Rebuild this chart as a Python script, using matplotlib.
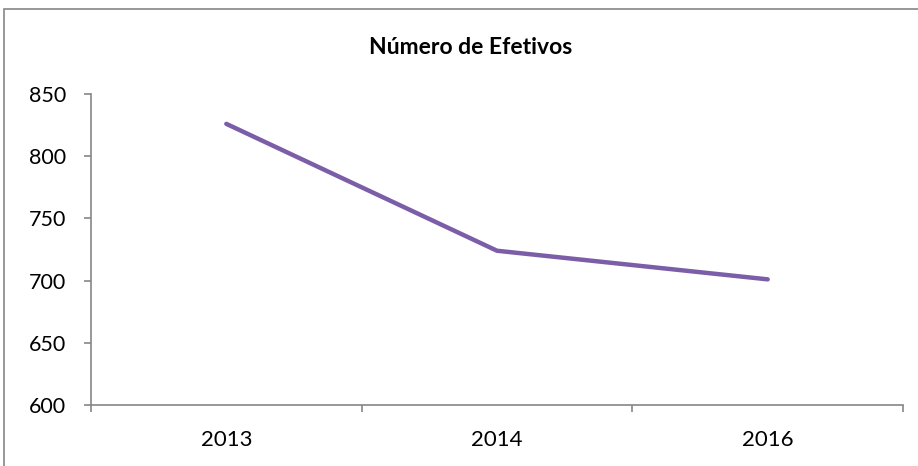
import matplotlib.pyplot as plt
from matplotlib.patches import Rectangle

# Número de Efetivos por ano
anos = ['2013', '2014', '2016']
efetivos = [826, 724, 701]
y_ticks = [600, 650, 700, 750, 800, 850]

plt.rcParams['font.family'] = ['Lato', 'DejaVu Sans']

fig = plt.figure(figsize=(9.18, 4.66), dpi=100)
ax = fig.add_axes([0.0991, 0.1309, 0.8846, 0.6674])

x = list(range(len(anos)))
ax.plot(x, efetivos, color='#7B5EA7', linewidth=3.2, solid_capstyle='round')

ax.set_xlim(-0.5, len(anos) - 0.5)
ax.set_ylim(600, 850)
ax.set_yticks(y_ticks)
ax.set_xticks(x)
ax.set_xticklabels(anos)
ax.set_xticks([i - 0.5 for i in range(len(anos) + 1)], minor=True)

ax.tick_params(axis='x', which='major', length=0, pad=18, labelsize=16)
ax.tick_params(axis='x', which='minor', length=5, color='#868686', width=1.2)
ax.tick_params(axis='y', length=5, color='#868686', width=1.2, pad=13, labelsize=15.5)

for s in ['top', 'right']:
    ax.spines[s].set_visible(False)
for s in ['left', 'bottom']:
    ax.spines[s].set_color('#868686')
    ax.spines[s].set_linewidth(1.2)

fig.text(0.513, 0.899, 'Número de Efetivos', ha='center', va='center',
         fontsize=16.5, fontweight='bold')

# moldura do gráfico
fig.patches.append(Rectangle((4 / 918, -0.1), 1.2, (466 - 9) / 466 + 0.1,
                             transform=fig.transFigure, fill=False,
                             edgecolor='#868686', linewidth=1.2))

fig.savefig('out.png', dpi=100)
